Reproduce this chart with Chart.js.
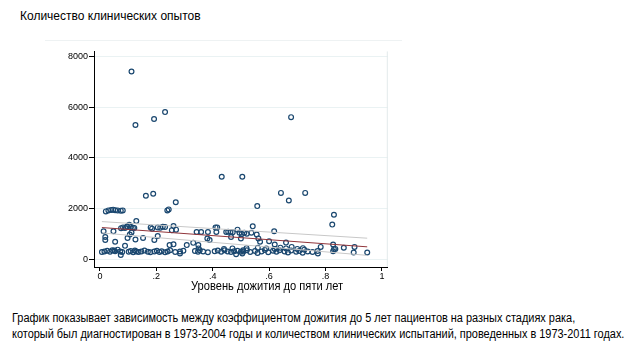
<!DOCTYPE html>
<html>
<head>
<meta charset="utf-8">
<script src="https://cdn.jsdelivr.net/npm/chart.js@4.4.1/dist/chart.umd.min.js"></script>
<style>
  body { margin: 0; background: #fff; font-family: "Liberation Sans", Arial, sans-serif; }
  #page { position: relative; width: 628px; height: 359px; overflow: hidden; }
  .txt { position: absolute; white-space: nowrap; color: #000; transform-origin: left top; }
  #title { left: 20px; top: 9px; font-size: 12px; }
  #divider { position: absolute; left: 45px; top: 40px; width: 357px; height: 1px; background: #eef2f3; }
  #xlabel { left: 191px; top: 279px; font-size: 12.5px; transform: scaleX(0.89); }
  #caption { left: 12px; top: 310px; font-size: 12px; line-height: 16px; transform: scaleX(0.912); }
  #wrap { position: absolute; left: 40px; top: 45px; width: 353px; height: 240px; }
</style>
</head>
<body>
<div id="page">
  <div id="title" class="txt">Количество клинических опытов</div>
  <div id="divider"></div>
  <div id="wrap"><canvas id="scatterChart"></canvas></div>
  <div id="xlabel" class="txt">Уровень дожития до пяти лет</div>
  <div id="caption" class="txt">График показывает зависимость между коэффициентом дожития до 5 лет пациентов на разных стадиях рака,<br>который был диагностирован в 1973-2004 годы и количеством клинических испытаний, проведенных в 1973-2011 годах.</div>
</div>
<script>
// survival rate (x) and number of trials (y)
const survivalRate = [
  0.112, 0.126, 0.192, 0.231, 0.678, 0.163, 0.189, 0.269, 0.432, 0.505,
  0.642, 0.728, 0.670, 0.558, 0.830, 0.824, 0.129,
  0.021, 0.030, 0.040, 0.047, 0.054, 0.063, 0.074, 0.081, 0.239, 0.244,
  0.075, 0.082, 0.089, 0.096, 0.104, 0.110, 0.117, 0.122, 0.180, 0.185,
  0.205, 0.214, 0.223, 0.231, 0.261, 0.270, 0.255, 0.013, 0.048, 0.112,
  0.343, 0.359, 0.383, 0.410, 0.416, 0.413, 0.448, 0.455, 0.463, 0.471,
  0.488, 0.495, 0.512, 0.542, 0.537, 0.556, 0.521, 0.503, 0.618, 0.600, 0.660,
  0.019, 0.019, 0.106, 0.098, 0.153, 0.126, 0.205, 0.193, 0.054, 0.089,
  0.051, 0.124, 0.381, 0.389, 0.465, 0.500, 0.308, 0.331, 0.349, 0.247,
  0.261, 0.562, 0.568, 0.620, 0.783, 0.827, 0.865, 0.903,
  0.007, 0.016, 0.026, 0.036, 0.044, 0.054, 0.063, 0.072, 0.079, 0.074,
  0.102, 0.109, 0.118, 0.129, 0.137, 0.147, 0.158, 0.170, 0.179, 0.193,
  0.202, 0.211, 0.219, 0.231, 0.240, 0.249, 0.267, 0.284, 0.284, 0.296,
  0.337, 0.348, 0.354, 0.366, 0.383, 0.407, 0.418, 0.430, 0.442, 0.453,
  0.465, 0.476, 0.483, 0.488, 0.500, 0.505, 0.508, 0.509, 0.521, 0.533,
  0.550, 0.559, 0.573, 0.585, 0.597, 0.614, 0.626, 0.637, 0.655, 0.667,
  0.678, 0.696, 0.707, 0.719, 0.725, 0.737, 0.754, 0.772, 0.773, 0.827,
  0.830, 0.835, 0.900, 0.948,
  0.590, 0.640, 0.680, 0.700, 0.720, 0.620, 0.660, 0.440, 0.470, 0.520,
  0.350, 0.560
];
const trialCount = [
  7400, 5290, 5530, 5800, 5600, 2500, 2580, 2240, 3250, 3250,
  2610, 2610, 2310, 2090, 1750, 1360, 1500,
  1880, 1920, 1940, 1950, 1930, 1920, 1910, 1920, 1920, 1960,
  1220, 1250, 1230, 1280, 1350, 1260, 1240, 1230, 1250, 1200,
  1250, 1240, 1270, 1260, 1300, 1160, 1140, 1100, 1100, 1050,
  1070, 1070, 1070, 1250, 1250, 1070, 1070, 1080, 1070, 1060,
  1160, 1040, 1040, 1290, 1040, 970, 1000, 990, 1100, 700, 650,
  870, 750, 970, 830, 830, 770, 910, 750, 680, 520,
  340, 340, 810, 750, 870, 810, 550, 640, 550, 550,
  580, 810, 680, 575, 480, 575, 445, 480,
  280, 300, 330, 290, 350, 310, 370, 300, 280, 160,
  290, 320, 270, 300, 280, 300, 340, 290, 270, 300,
  330, 280, 310, 270, 300, 350, 280, 300, 220, 330,
  320, 290, 350, 300, 270, 310, 340, 290, 350, 300,
  280, 310, 190, 330, 290, 220, 350, 300, 350, 280,
  320, 240, 300, 360, 270, 330, 290, 350, 300, 260,
  340, 290, 320, 250, 370, 300, 280, 320, 220, 310,
  390, 400, 260, 260,
  420, 450, 480, 400, 430, 400, 420, 400, 420, 430,
  420, 450
];

// linear fit and its 95% band
const fitX = [0.007, 0.948];
const fitY = [1243, 482];
const ciUpper = [1478, 823];
const ciLower = [1030, 145];

const xTicks = [0, 0.2, 0.4, 0.6, 0.8, 1];
const yTicks = [0, 2000, 4000, 6000, 8000];

const toPoints = (xs, ys) => xs.map((x, i) => ({ x, y: ys[i] }));

const plotBorder = {
  id: "plotBorder",
  beforeDatasetsDraw(chart) {
    const { ctx, chartArea } = chart;
    ctx.save();
    ctx.strokeStyle = "#e3eaec";
    ctx.lineWidth = 1;
    ctx.beginPath();
    ctx.moveTo(chartArea.right - 0.5, chartArea.top);
    ctx.lineTo(chartArea.right - 0.5, chartArea.bottom);
    ctx.stroke();
    ctx.restore();
  },
};

const el = document.getElementById("scatterChart");
const ctx = el.getContext("2d");

const data = {
  datasets: [
    {
      type: "line",
      data: toPoints(fitX, fitY),
      borderColor: "#90353b",
      borderWidth: 1,
      pointRadius: 0,
    },
    {
      type: "line",
      data: toPoints(fitX, ciUpper),
      borderColor: "#c8c8c8",
      borderWidth: 1,
      pointRadius: 0,
    },
    {
      type: "line",
      data: toPoints(fitX, ciLower),
      borderColor: "#c8c8c8",
      borderWidth: 1,
      pointRadius: 0,
    },
    {
      data: toPoints(survivalRate, trialCount),
      borderColor: "#1a476f",
      backgroundColor: "rgba(0,0,0,0)",
      borderWidth: 1.2,
      pointRadius: 2.4,
    },
  ],
};

const options = {
  animation: false,
  responsive: true,
  maintainAspectRatio: false,
  layout: { padding: { top: 5, right: 0, bottom: 0, left: 0 } },
  plugins: { legend: { display: false }, tooltip: { enabled: false } },
  scales: {
    x: {
      type: "linear",
      min: -0.021,
      max: 1.021,
      afterFit(scale) { scale.height = 18; },
      afterBuildTicks(scale) { scale.ticks = xTicks.map(v => ({ value: v })); },
      border: { display: true, color: "#000", width: 1 },
      grid: { drawOnChartArea: false, tickColor: "#000", tickLength: 4 },
      ticks: {
        color: "#000",
        padding: 0,
        font: { family: "Liberation Sans", size: 9 },
        callback: v => (v === 0 || v === 1 ? String(v) : String(Math.round(v * 10) / 10).replace("0.", ".")),
      },
    },
    y: {
      type: "linear",
      min: -314,
      max: 8196,
      afterFit(scale) { scale.width = 54; },
      afterBuildTicks(scale) { scale.ticks = yTicks.map(v => ({ value: v })); },
      border: { display: true, color: "#000", width: 1 },
      grid: { color: "#eaf2f3", tickColor: "#000", tickLength: 5 },
      ticks: {
        color: "#000",
        padding: 1,
        font: { family: "Liberation Sans", size: 9 },
        callback: v => String(v),
      },
    },
  },
};

new Chart(ctx, { type: "scatter", data, options, plugins: [plotBorder] });
</script>
</body>
</html>
